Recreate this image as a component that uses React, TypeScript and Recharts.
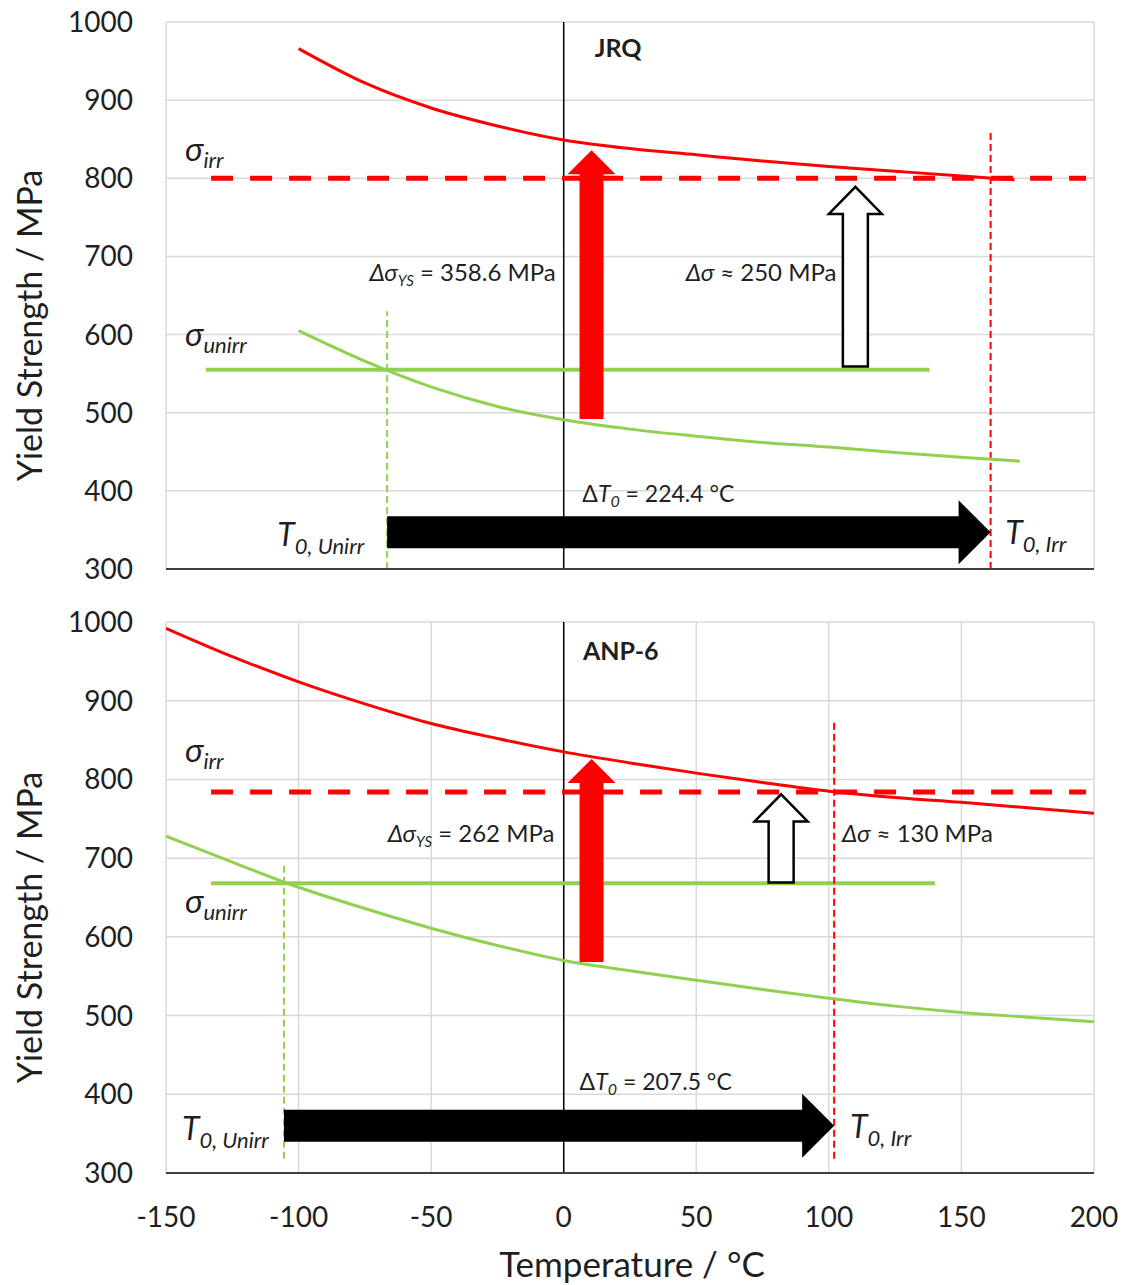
import React from "react"
import {
  ComposedChart,
  Line,
  XAxis,
  YAxis,
  CartesianGrid,
  ReferenceLine,
  ReferenceDot,
} from "recharts"

const FONT = "Lato, 'Open Sans', sans-serif"
const RED = "#ff0000"
const GREEN = "#92d050"
const TEXT = "#1f1f1f"

const tempTicks = [-150, -100, -50, 0, 50, 100, 150, 200]
const strengthTicks = [300, 400, 500, 600, 700, 800, 900, 1000]

// JRQ (top panel)
const jrqIrrTemps = [-100, -75, -50, -25, 0, 25, 50, 75, 100, 125, 150, 170]
const jrqIrrValues = [966, 922, 890, 867, 849, 838, 830, 822, 815, 809, 803, 798]
const jrqUnirrTemps = [-100, -75, -50, -25, 0, 25, 50, 75, 100, 125, 150, 172]
const jrqUnirrValues = [605, 566, 533, 508, 491, 479, 470, 462, 456, 449, 443, 438]
const jrqLevels = { irr: 800, irrFrom: -133, irrTo: 197, unirr: 555, unirrFrom: -135, unirrTo: 138 }
const jrqT0 = { unirr: -66.6, irr: 161, unirrTop: 630, irrTop: 860, bottom: 300 }
const jrqShift = { ysTemp: 10.5, ysFrom: 492, ysTo: 836, dTemp: 110, dFrom: 559, dTo: 789, t0Level: 347 }

// ANP-6 (bottom panel)
const anpIrrTemps = [-150, -125, -100, -75, -50, -25, 0, 25, 50, 75, 100, 125, 150, 175, 200]
const anpIrrValues = [992, 956, 924, 896, 871, 852, 835, 821, 808, 796, 785, 777, 771, 764, 757]
const anpUnirrTemps = [-150, -125, -100, -75, -50, -25, 0, 25, 50, 75, 100, 125, 150, 175, 200]
const anpUnirrValues = [728, 695, 663, 636, 611, 589, 570, 557, 545, 533, 522, 512, 504, 498, 492]
const anpLevels = { irr: 784, irrFrom: -133, irrTo: 197, unirr: 668, unirrFrom: -133, unirrTo: 140 }
const anpT0 = { unirr: -105.5, irr: 102, unirrTop: 694, irrTop: 874, bottom: 318 }
const anpShift = { ysTemp: 10.5, ysFrom: 568, ysTo: 826, dTemp: 82, dFrom: 669, dTo: 781, t0Level: 360 }

type Seg = { t: string; it?: boolean; sub?: boolean }
type Note = { x: number; y: number; segs: Seg[]; size: number; sub: number; shift: number; anchor?: "start" | "middle" | "end"; bold?: boolean }

const sigma = (s: string): Seg[] => [{ t: "σ", it: true }, { t: s, it: true, sub: true }]
const t0 = (s: string): Seg[] => [{ t: "T", it: true }, { t: "0, " + s, it: true, sub: true }]

const jrqNotes: Note[] = [
  { x: 20.5, y: 955, segs: [{ t: "JRQ" }], size: 25, sub: 25, shift: 0, anchor: "middle", bold: true },
  { x: -142.8, y: 822, segs: sigma("irr"), size: 33, sub: 22, shift: 7 },
  { x: -142.8, y: 586, segs: sigma("unirr"), size: 33, sub: 22, shift: 7 },
  { x: -3, y: 668, segs: [{ t: "Δσ", it: true }, { t: "YS", it: true, sub: true }, { t: " = 358.6 MPa" }], size: 24, sub: 15, shift: 5, anchor: "end" },
  { x: 46, y: 668, segs: [{ t: "Δσ", it: true }, { t: " ≈ 250 MPa" }], size: 24, sub: 15, shift: 5 },
  { x: 7, y: 386, segs: [{ t: "Δ" }, { t: "T", it: true }, { t: "0", it: true, sub: true }, { t: " = 224.4 °C" }], size: 23, sub: 16, shift: 5 },
  { x: -108, y: 329, segs: t0("Unirr"), size: 32, sub: 22, shift: 8 },
  { x: 166.5, y: 332, segs: t0("Irr"), size: 32, sub: 22, shift: 8 },
]

const anpNotes: Note[] = [
  { x: 21.5, y: 952, segs: [{ t: "ANP-6" }], size: 25, sub: 25, shift: 0, anchor: "middle", bold: true },
  { x: -142.8, y: 822, segs: sigma("irr"), size: 33, sub: 22, shift: 7 },
  { x: -142.8, y: 630, segs: sigma("unirr"), size: 33, sub: 22, shift: 7 },
  { x: -3.5, y: 720, segs: [{ t: "Δσ", it: true }, { t: "YS", it: true, sub: true }, { t: " = 262 MPa" }], size: 24, sub: 15, shift: 5, anchor: "end" },
  { x: 105, y: 720, segs: [{ t: "Δσ", it: true }, { t: " ≈ 130 MPa" }], size: 24, sub: 15, shift: 5 },
  { x: 6, y: 406, segs: [{ t: "Δ" }, { t: "T", it: true }, { t: "0", it: true, sub: true }, { t: " = 207.5 °C" }], size: 23, sub: 16, shift: 5 },
  { x: -144, y: 342, segs: t0("Unirr"), size: 32, sub: 22, shift: 8 },
  { x: 108, y: 345, segs: t0("Irr"), size: 32, sub: 22, shift: 8 },
]

const toPoints = (xs: number[], ys: number[]) => xs.map((x, i) => ({ x, y: ys[i] }))

function RichText({ x, y, note }: { x: number; y: number; note: Note }) {
  let prevSub = false
  return (
    <text x={x} y={y} textAnchor={note.anchor || "start"} fontFamily={FONT} fontSize={note.size}
      fill={TEXT} fontWeight={note.bold ? 700 : 400} style={{ whiteSpace: "pre" }}>
      {note.segs.map((s, i) => {
        const dy = s.sub && !prevSub ? note.shift : !s.sub && prevSub ? -note.shift : 0
        prevSub = !!s.sub
        return (
          <tspan key={i} dy={dy} fontStyle={s.it ? "italic" : "normal"} fontSize={s.sub ? note.sub : note.size}>
            {s.t}
          </tspan>
        )
      })}
    </text>
  )
}

// block arrow drawn along a reference segment
const arrow = (shaft: number, head: number, headLen: number, fill: string, stroke?: string) => (p: any) => {
  const { x1, y1, x2, y2 } = p
  const len = Math.hypot(x2 - x1, y2 - y1) || 1
  const ux = (x2 - x1) / len
  const uy = (y2 - y1) / len
  const nx = -uy
  const ny = ux
  const bx = x2 - ux * headLen
  const by = y2 - uy * headLen
  const pts = [
    [x1 + nx * shaft / 2, y1 + ny * shaft / 2],
    [bx + nx * shaft / 2, by + ny * shaft / 2],
    [bx + nx * head / 2, by + ny * head / 2],
    [x2, y2],
    [bx - nx * head / 2, by - ny * head / 2],
    [bx - nx * shaft / 2, by - ny * shaft / 2],
    [x1 - nx * shaft / 2, y1 - ny * shaft / 2],
  ]
  return (
    <polygon points={pts.map((q) => q.join(",")).join(" ")} fill={fill}
      stroke={stroke || "none"} strokeWidth={stroke ? 2.5 : 0} strokeLinejoin="miter" />
  )
}

type PanelProps = {
  height: number
  bottomAxis: boolean
  irrTemps: number[]
  irrValues: number[]
  unirrTemps: number[]
  unirrValues: number[]
  levels: typeof jrqLevels
  T0: typeof jrqT0
  shift: typeof jrqShift
  notes: Note[]
}

function Panel({ height, bottomAxis, irrTemps, irrValues, unirrTemps, unirrValues, levels, T0, shift, notes }: PanelProps) {
  const irr = toPoints(irrTemps, irrValues)
  const unirr = toPoints(unirrTemps, unirrValues)
  return (
    <ComposedChart width={1133} height={height} margin={{ top: 22, right: 39, bottom: 0, left: 0 }}>
      <CartesianGrid stroke="#d9d9d9" strokeWidth={1.5} />
      <XAxis
        type="number"
        dataKey="x"
        domain={[-150, 200]}
        ticks={tempTicks}
        allowDataOverflow
        interval={0}
        height={bottomAxis ? 112 : 31}
        axisLine={{ stroke: "#404040", strokeWidth: 2 }}
        tickLine={false}
        tickSize={0}
        tickMargin={34}
        tick={bottomAxis ? { fontFamily: FONT, fontSize: 28, fill: TEXT } : false}
        label={bottomAxis ? ({ viewBox }: any) => (
          <text x={viewBox.x + viewBox.width / 2 + 2} y={viewBox.y + 104} textAnchor="middle"
            fontFamily={FONT} fontSize={35} fill={TEXT}>Temperature / °C</text>
        ) : undefined}
      />
      <YAxis
        type="number"
        domain={[300, 1000]}
        ticks={strengthTicks}
        allowDataOverflow
        interval={0}
        width={166}
        axisLine={false}
        tickLine={false}
        tickSize={0}
        tickMargin={33}
        tick={{ fontFamily: FONT, fontSize: 28, fill: TEXT }}
        label={({ viewBox }: any) => {
          const cy = viewBox.y + viewBox.height / 2 + 30
          return (
            <text x={42} y={cy} transform={`rotate(-90, 42, ${cy})`} textAnchor="middle"
              fontFamily={FONT} fontSize={34} fill={TEXT}>Yield Strength / MPa</text>
          )
        }}
      />
      <ReferenceLine x={0} stroke="#000" strokeWidth={1.5} />

      <ReferenceLine segment={[{ x: levels.unirrFrom, y: levels.unirr }, { x: levels.unirrTo, y: levels.unirr }]}
        stroke={GREEN} strokeWidth={4} />
      <ReferenceLine segment={[{ x: T0.unirr, y: T0.bottom }, { x: T0.unirr, y: T0.unirrTop }]}
        stroke={GREEN} strokeWidth={2} strokeDasharray="7 4" />
      <ReferenceLine segment={[{ x: T0.irr, y: T0.bottom }, { x: T0.irr, y: T0.irrTop }]}
        stroke={RED} strokeWidth={2} strokeDasharray="7 4" />

      <Line data={unirr} dataKey="y" type="monotone" stroke={GREEN} strokeWidth={3} dot={false}
        activeDot={false} isAnimationActive={false} />
      <Line data={irr} dataKey="y" type="monotone" stroke={RED} strokeWidth={3} dot={false}
        activeDot={false} isAnimationActive={false} />

      <ReferenceLine segment={[{ x: levels.irrFrom, y: levels.irr }, { x: levels.irrTo, y: levels.irr }]}
        stroke={RED} strokeWidth={5} strokeDasharray="22 17" />

      <ReferenceLine segment={[{ x: shift.ysTemp, y: shift.ysFrom }, { x: shift.ysTemp, y: shift.ysTo }]}
        shape={arrow(24, 48, 24, RED)} />
      <ReferenceLine segment={[{ x: shift.dTemp, y: shift.dFrom }, { x: shift.dTemp, y: shift.dTo }]}
        shape={arrow(25, 53, 27, "#fff", "#000")} />
      <ReferenceLine segment={[{ x: T0.unirr, y: shift.t0Level }, { x: T0.irr, y: shift.t0Level }]}
        shape={arrow(32, 64, 32, "#000")} />

      {notes.map((n, i) => (
        <ReferenceDot key={i} x={n.x} y={n.y} r={0} ifOverflow="visible"
          shape={(p: any) => <RichText x={p.cx} y={p.cy} note={n} />} />
      ))}
    </ComposedChart>
  )
}

export default function App() {
  return (
    <div style={{ position: "absolute", left: 0, top: 0, width: 1133, height: 1285, background: "#fff" }}>
      <Panel height={600} bottomAxis={false} irrTemps={jrqIrrTemps} irrValues={jrqIrrValues}
        unirrTemps={jrqUnirrTemps} unirrValues={jrqUnirrValues} levels={jrqLevels} T0={jrqT0}
        shift={jrqShift} notes={jrqNotes} />
      <Panel height={685} bottomAxis irrTemps={anpIrrTemps} irrValues={anpIrrValues}
        unirrTemps={anpUnirrTemps} unirrValues={anpUnirrValues} levels={anpLevels} T0={anpT0}
        shift={anpShift} notes={anpNotes} />
    </div>
  )
}
